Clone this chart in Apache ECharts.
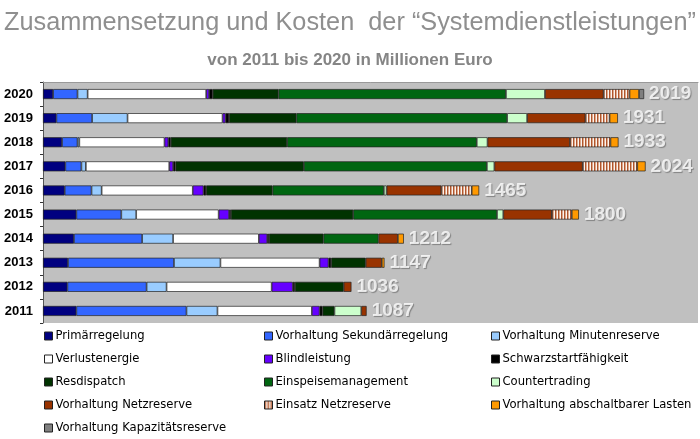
<!DOCTYPE html>
<html><head><meta charset="utf-8">
<script src="https://cdn.jsdelivr.net/npm/echarts@6/dist/echarts.min.js"></script>
<style>html,body{margin:0;padding:0;background:#fff}#c{width:700px;height:439px}</style>
</head><body><div id="c"></div>
<script>
const years = ['2011','2012','2013','2014','2015','2016','2017','2018','2019','2020'];
const totals = [1087,1036,1147,1212,1800,1465,2024,1933,1931,2019];
const names = ['Primärregelung','Vorhaltung Sekundärregelung','Vorhaltung Minutenreserve','Verlustenergie','Blindleistung','Schwarzstartfähigkeit','Resdispatch','Einspeisemanagement','Countertrading','Vorhaltung Netzreserve','Einsatz Netzreserve','Vorhaltung abschaltbarer Lasten','Vorhaltung Kapazitätsreserve'];
// values per series, years 2011..2020
const primaer      = [112, 82, 84,104,112, 73, 75, 64, 45, 34];
const sekundaer    = [370,266,356,229,151, 90, 54, 52,120, 82];
const minuten      = [104, 67,156,104, 50, 34, 15,  6,119, 34];
const verlust      = [317,353,333,288,277,306,280,286,319,398];
const blind        = [ 26, 71, 30, 28, 35, 36, 13, 13, 10, 10];
const schwarz      = [ 10,  7,  9,  6,  6,  9,  8,  8, 12, 12];
const redispatch   = [ 40,164,116,183,411,223,431,391,226,221];
const einspeise    = [  0,  0,  0,185,483,374,615,637,708,764];
const counter      = [ 90,  0,  0,  0, 21,  9, 25, 36, 67,131];
const nrVorhaltung = [ 18, 26, 54, 65,163,184,297,277,196,197];
const nrEinsatz    = [  0,  0,  0,  0, 67,102,183,136, 81, 87];
const abschaltbar  = [  0,  0,  9, 20, 24, 25, 28, 27, 28, 32];
const kapazitaet   = [  0,  0,  0,  0,  0,  0,  0,  0,  0, 17];
const seriesData = [primaer,sekundaer,minuten,verlust,blind,schwarz,redispatch,einspeise,counter,nrVorhaltung,nrEinsatz,abschaltbar,kapazitaet];

// stripe pattern for Einsatz Netzreserve
const pc = document.createElement('canvas');
pc.width = 3; pc.height = 8;
const pctx = pc.getContext('2d');
pctx.fillStyle = '#fbf3ee'; pctx.fillRect(0,0,3,8);
pctx.fillStyle = '#b0552c'; pctx.fillRect(0,0,1,8);
pctx.fillStyle = '#dca88c'; pctx.fillRect(1,0,1,8);

const colors = ['#000080','#3366ff','#99ccff','#ffffff','#6600ff','#000000','#003300','#006611','#ccffcc','#993300',{image: pc, repeat:'repeat'},'#ff9900','#808080'];

const chart = echarts.init(document.getElementById('c'), null, {renderer:'canvas'});

const legendPos = [];
const colX = [44, 264, 491];
names.forEach((n,i)=>{
  legendPos.push({
    data:[n], left: colX[i%3], top: 330 + Math.floor(i/3)*23, padding: 0,
    itemWidth: 8, itemHeight: 8, icon: 'rect', itemGap: 4,
    itemStyle: {borderColor:'#222', borderWidth:1},
    textStyle: {fontFamily:'DejaVu Sans', fontSize: 11.6, color:'#000', padding:[0,0,0,-2]},
    selectedMode: false
  });
});

const series = seriesData.map((arr,i)=>({
  name: names[i], type:'bar', stack:'total', barWidth: 10,
  itemStyle: {color: colors[i], borderColor:'#222', borderWidth:0.7},
  emphasis: {disabled:true},
  data: arr.map(v => v === 0 ? '-' : v)
}));
series.push({
  type:'scatter', symbolSize: 0, silent: true,
  data: totals.map((t,i)=>[t, years[i]]),
  label: {show:true, position:'right', distance: 5, formatter: p => String(p.value[0]),
    color:'#fff', fontWeight:'bold', fontSize: 19, fontFamily:'Liberation Sans, Arial',
    textShadowColor:'rgba(0,0,0,0.4)', textShadowBlur:1, textShadowOffsetX:1, textShadowOffsetY:1}
});

chart.setOption({
  animation:false,
  backgroundColor:'#fff',
  title:[
    {text:'Zusammensetzung und Kosten  der “Systemdienstleistungen”', left:'center', top:6,
     textStyle:{fontFamily:'Liberation Sans, Arial', fontSize:25.3, fontWeight:'normal', color:'#8f8f8f',
       textShadowColor:'rgba(0,0,0,0.35)', textShadowOffsetX:1, textShadowOffsetY:1, textShadowBlur:0}},
    {text:'von 2011 bis 2020 in Millionen Euro', left:'center', top:47,
     textStyle:{fontFamily:'Liberation Sans, Arial', fontSize:17, fontWeight:'bold', color:'#858585'}}
  ],
  legend: legendPos,
  grid:{left:43, right:2, top:82, bottom:116, show:true, backgroundColor:'#c0c0c0', borderWidth:0},
  xAxis:{type:'value', min:0, max:2200, position:'top',
    axisLine:{show:true, lineStyle:{color:'#999', width:1}}, axisTick:{show:false}, axisLabel:{show:false}, splitLine:{show:false}},
  yAxis:{type:'category', data:years,
    axisLine:{show:true, lineStyle:{color:'#555', width:1}},
    axisTick:{show:true, length:3, lineStyle:{color:'#333'}},
    axisLabel:{margin:10, color:'#000', fontWeight:'bold', fontSize:13, fontFamily:'Liberation Sans, Arial'}},
  series: series
});
</script></body></html>
